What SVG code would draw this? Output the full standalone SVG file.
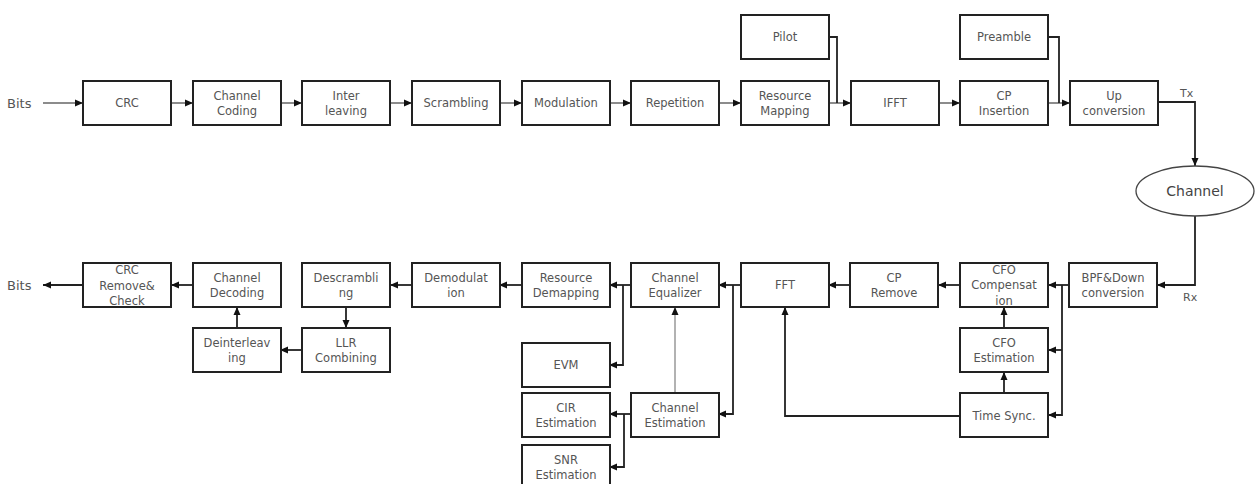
<svg xmlns="http://www.w3.org/2000/svg" width="1260" height="484" viewBox="0 0 1260 484">
<defs>
<style>
.box{fill:#fff;stroke:#222;stroke-width:2}
.t{font-family:"DejaVu Sans",sans-serif;font-size:11.5px;fill:#555;text-anchor:middle}
.lbl{font-family:"DejaVu Sans",sans-serif;font-size:11px;fill:#555}
.bits{font-family:"DejaVu Sans",sans-serif;font-size:13px;fill:#555}
.c{fill:none;stroke:#222;stroke-width:1.8}
.cl{fill:none;stroke:#666;stroke-width:1.5}
.cg{fill:none;stroke:#999;stroke-width:1.5}
</style>
<marker id="a" markerUnits="userSpaceOnUse" markerWidth="8" markerHeight="8" refX="8" refY="4" orient="auto">
<path d="M0,0.5 L8,4 L0,7.5 z" fill="#111"/>
</marker>
</defs>
<rect width="1260" height="484" fill="#fff"/>

<g id="connectors">
<path class="cl" d="M43,103 H83" marker-end="url(#a)"/>
<path class="cl" d="M171,103 H193" marker-end="url(#a)"/>
<path class="cl" d="M280,103 H302" marker-end="url(#a)"/>
<path class="cl" d="M390,103 H412" marker-end="url(#a)"/>
<path class="cl" d="M499,103 H522" marker-end="url(#a)"/>
<path class="cl" d="M609,103 H631" marker-end="url(#a)"/>
<path class="cl" d="M719,103 H741" marker-end="url(#a)"/>
<path class="cl" d="M828,103 H851" marker-end="url(#a)"/>
<path class="c" d="M828,37 H837 V103"/>
<path class="cl" d="M938,103 H960" marker-end="url(#a)"/>
<path class="cl" d="M1048,103 H1070" marker-end="url(#a)"/>
<path class="c" d="M1048,37 H1059 V103"/>
<path class="c" d="M1158,102 H1195 V166" marker-end="url(#a)"/>
<path class="c" d="M1195,216 V285 H1157" marker-end="url(#a)"/>
<path class="c" d="M1069,285 H1048" marker-end="url(#a)"/>
<path class="c" d="M1062,285 V415 H1048" marker-end="url(#a)"/>
<path class="c" d="M1062,350 H1048" marker-end="url(#a)"/>
<path class="c" d="M1004,328 V307" marker-end="url(#a)"/>
<path class="c" d="M1004,393 V372" marker-end="url(#a)"/>
<path class="c" d="M960,285 H938" marker-end="url(#a)"/>
<path class="c" d="M850,285 H828" marker-end="url(#a)"/>
<path class="c" d="M960,416 H785 V307" marker-end="url(#a)"/>
<path class="c" d="M741,285 H718" marker-end="url(#a)"/>
<path class="c" d="M733,285 V414 H718" marker-end="url(#a)"/>
<path class="cg" d="M675,393 V307" marker-end="url(#a)"/>
<path class="c" d="M631,285 H609" marker-end="url(#a)"/>
<path class="c" d="M623,285 V365 H609" marker-end="url(#a)"/>
<path class="c" d="M631,414 H609" marker-end="url(#a)"/>
<path class="c" d="M624,414 V467 H609" marker-end="url(#a)"/>
<path class="c" d="M522,285 H499" marker-end="url(#a)"/>
<path class="c" d="M412,285 H390" marker-end="url(#a)"/>
<path class="c" d="M346,307 V328" marker-end="url(#a)"/>
<path class="c" d="M302,350 H280" marker-end="url(#a)"/>
<path class="c" d="M237,328 V307" marker-end="url(#a)"/>
<path class="c" d="M193,285 H171" marker-end="url(#a)"/>
<path class="c" d="M83,285 H43" marker-end="url(#a)"/>
</g>

<g id="labels">
<text class="bits" x="7" y="108">Bits</text>
<text class="bits" x="7" y="290">Bits</text>
<text class="lbl" x="1180" y="97">Tx</text>
<text class="lbl" x="1183" y="301">Rx</text>
</g>

<g id="crc"><rect class="box" x="83" y="81" width="88" height="44"/><text class="t" x="127" y="107">CRC</text></g>
<g id="channel-coding"><rect class="box" x="193" y="81" width="88" height="44"/><text class="t" x="237" y="100">Channel</text><text class="t" x="237" y="115">Coding</text></g>
<g id="interleaving"><rect class="box" x="302" y="81" width="88" height="44"/><text class="t" x="346" y="100">Inter</text><text class="t" x="346" y="115">leaving</text></g>
<g id="scrambling"><rect class="box" x="412" y="81" width="88" height="44"/><text class="t" x="456" y="107">Scrambling</text></g>
<g id="modulation"><rect class="box" x="522" y="81" width="88" height="44"/><text class="t" x="566" y="107">Modulation</text></g>
<g id="repetition"><rect class="box" x="631" y="81" width="88" height="44"/><text class="t" x="675" y="107">Repetition</text></g>
<g id="resource-mapping"><rect class="box" x="741" y="81" width="88" height="44"/><text class="t" x="785" y="100">Resource</text><text class="t" x="785" y="115">Mapping</text></g>
<g id="pilot"><rect class="box" x="741" y="15" width="88" height="44"/><text class="t" x="785" y="41">Pilot</text></g>
<g id="ifft"><rect class="box" x="851" y="81" width="88" height="44"/><text class="t" x="895" y="107">IFFT</text></g>
<g id="cp-insertion"><rect class="box" x="960" y="81" width="88" height="44"/><text class="t" x="1004" y="100">CP</text><text class="t" x="1004" y="115">Insertion</text></g>
<g id="preamble"><rect class="box" x="960" y="15" width="88" height="44"/><text class="t" x="1004" y="41">Preamble</text></g>
<g id="up-conversion"><rect class="box" x="1070" y="81" width="88" height="44"/><text class="t" x="1114" y="100">Up</text><text class="t" x="1114" y="115">conversion</text></g>

<g id="channel"><ellipse cx="1195" cy="191" rx="59" ry="25" fill="#fff" stroke="#444" stroke-width="1.3"/><text x="1195" y="196" text-anchor="middle" font-family="DejaVu Sans, sans-serif" font-size="14" fill="#444">Channel</text></g>

<g id="bpf-down"><rect class="box" x="1069" y="263" width="88" height="44"/><text class="t" x="1113" y="282">BPF&amp;Down</text><text class="t" x="1113" y="297">conversion</text></g>
<g id="cfo-comp"><rect class="box" x="960" y="263" width="88" height="44"/><text class="t" x="1004" y="274">CFO</text><text class="t" x="1004" y="289">Compensat</text><text class="t" x="1004" y="305">ion</text></g>
<g id="cfo-est"><rect class="box" x="960" y="328" width="88" height="44"/><text class="t" x="1004" y="347">CFO</text><text class="t" x="1004" y="362">Estimation</text></g>
<g id="time-sync"><rect class="box" x="960" y="393" width="88" height="44"/><text class="t" x="1004" y="420">Time Sync.</text></g>
<g id="cp-remove"><rect class="box" x="850" y="263" width="88" height="44"/><text class="t" x="894" y="282">CP</text><text class="t" x="894" y="297">Remove</text></g>
<g id="fft"><rect class="box" x="741" y="263" width="88" height="44"/><text class="t" x="785" y="289">FFT</text></g>
<g id="channel-equalizer"><rect class="box" x="631" y="263" width="88" height="44"/><text class="t" x="675" y="282">Channel</text><text class="t" x="675" y="297">Equalizer</text></g>
<g id="channel-estimation"><rect class="box" x="631" y="393" width="88" height="44"/><text class="t" x="675" y="412">Channel</text><text class="t" x="675" y="427">Estimation</text></g>
<g id="resource-demapping"><rect class="box" x="522" y="263" width="88" height="44"/><text class="t" x="566" y="282">Resource</text><text class="t" x="566" y="297">Demapping</text></g>
<g id="evm"><rect class="box" x="522" y="343" width="88" height="44"/><text class="t" x="566" y="369">EVM</text></g>
<g id="cir-estimation"><rect class="box" x="522" y="393" width="88" height="44"/><text class="t" x="566" y="412">CIR</text><text class="t" x="566" y="427">Estimation</text></g>
<g id="snr-estimation"><rect class="box" x="522" y="445" width="88" height="44"/><text class="t" x="566" y="464">SNR</text><text class="t" x="566" y="479">Estimation</text></g>
<g id="demodulation"><rect class="box" x="412" y="263" width="88" height="44"/><text class="t" x="456" y="282">Demodulat</text><text class="t" x="456" y="297">ion</text></g>
<g id="descrambling"><rect class="box" x="302" y="263" width="88" height="44"/><text class="t" x="346" y="282">Descrambli</text><text class="t" x="346" y="297">ng</text></g>
<g id="llr-combining"><rect class="box" x="302" y="328" width="88" height="44"/><text class="t" x="346" y="347">LLR</text><text class="t" x="346" y="362">Combining</text></g>
<g id="deinterleaving"><rect class="box" x="193" y="328" width="88" height="44"/><text class="t" x="237" y="347">Deinterleav</text><text class="t" x="237" y="362">ing</text></g>
<g id="channel-decoding"><rect class="box" x="193" y="263" width="88" height="44"/><text class="t" x="237" y="282">Channel</text><text class="t" x="237" y="297">Decoding</text></g>
<g id="crc-remove"><rect class="box" x="83" y="263" width="88" height="44"/><text class="t" x="127" y="274">CRC</text><text class="t" x="127" y="290">Remove&amp;</text><text class="t" x="127" y="305">Check</text></g>
</svg>
